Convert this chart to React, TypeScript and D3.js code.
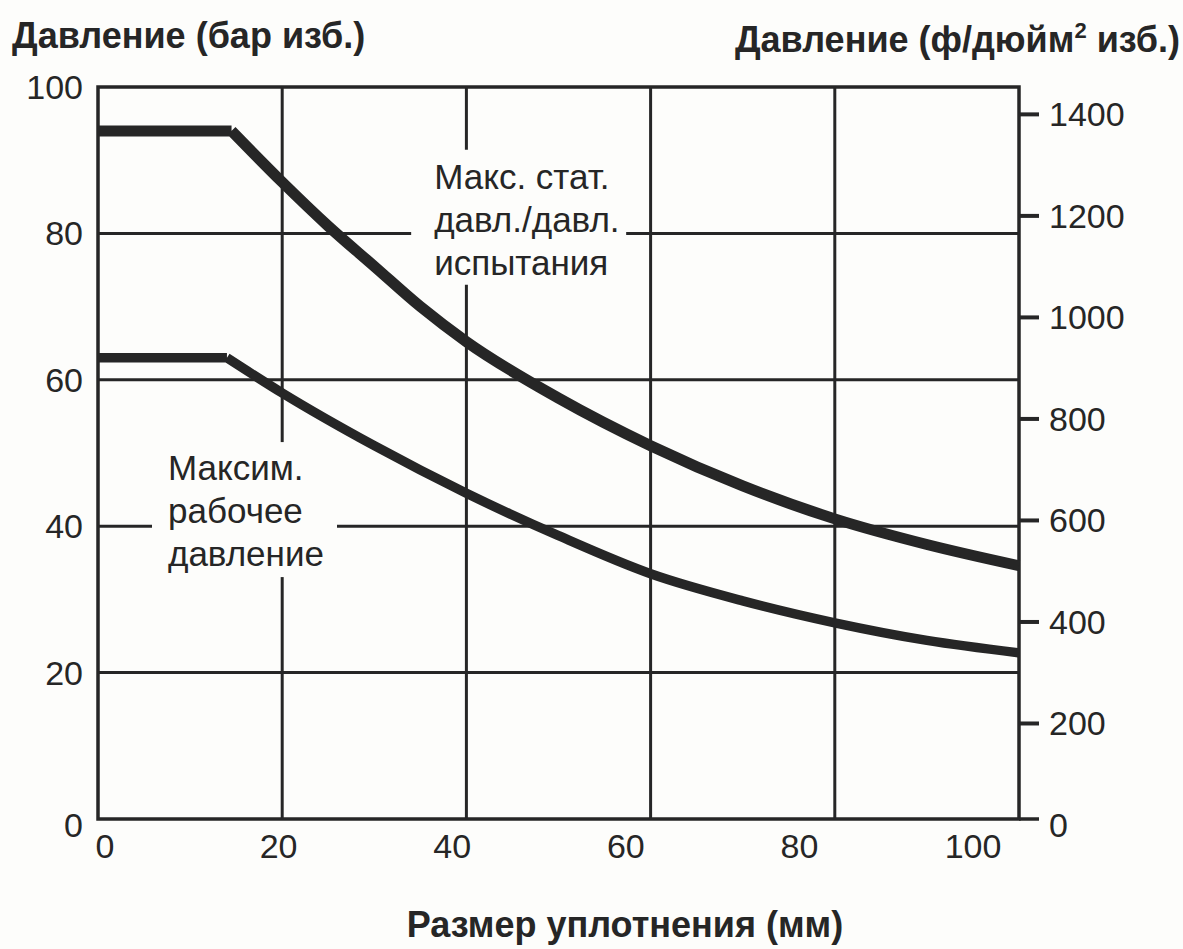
import React from 'react';
import * as d3 from 'd3';

// seal size (mm) vs pressure (bar g)
const testPressure: [number, number][] = [
  [0, 94], [14.5, 94], [20, 87], [25, 81], [30, 75.5], [35, 70], [40, 65.2],
  [50, 57.5], [60, 51], [70, 45.5], [80, 41], [90, 37.5], [100, 34.6],
];
const workPressure: [number, number][] = [
  [0, 63], [14, 63], [20, 58.2], [30, 51], [40, 44.5], [50, 38.7],
  [60, 33.5], [70, 29.8], [80, 26.8], [90, 24.4], [100, 22.7],
];

const xTicks = [0, 20, 40, 60, 80, 100];
const yTicks = [0, 20, 40, 60, 80, 100];
const psiTicks = [0, 200, 400, 600, 800, 1000, 1200, 1400];
const gridX = [20, 40, 60, 80];
const gridY = [20, 40, 60, 80];

const upperLabel = ['Макс. стат.', 'давл./давл.', 'испытания'];
const lowerLabel = ['Максим.', 'рабочее', 'давление'];

const W = 1183;
const H = 949;
const ink = '#262626';
const bg = '#fdfdfb';
const font = '"Liberation Sans", Arial, Helvetica, sans-serif';

export default function App() {
  const x = d3.scaleLinear().domain([0, 100]).range([98, 1019]);
  const y = d3.scaleLinear().domain([0, 100]).range([819, 87]);
  const yPsi = d3.scaleLinear().domain([0, 1450]).range([825, 89]);
  // printed tick labels sit a bit off the grid in the original
  const xLab = d3.scaleLinear().domain([0, 100]).range([105, 973]);

  const flat = d3.line<[number, number]>().x(d => x(d[0])).y(d => y(d[1]));
  const smooth = d3
    .line<[number, number]>()
    .x(d => x(d[0]))
    .y(d => y(d[1]))
    .curve(d3.curveMonotoneX);

  const curvePath = (pts: [number, number][]) =>
    (flat(pts.slice(0, 2)) || '') + (smooth(pts.slice(1)) || '');

  const [x0, x1] = x.range();
  const [y0, y1] = y.range();

  const annotations = [
    { lines: upperLabel, ax: x(36.5), ay: y(86.1), box: [-23, -39, 215, 135] },
    { lines: lowerLabel, ax: x(7.6), ay: y(46.3), box: [-16, -38, 185, 135] },
  ];

  return (
    <svg
      width={W}
      height={H}
      style={{ position: 'absolute', left: 0, top: 0, background: bg }}
      fontFamily={font}
    >
      {/* grid */}
      {gridX.map(v => (
        <line key={'gx' + v} x1={x(v)} x2={x(v)} y1={y1} y2={y0} stroke={ink} strokeWidth={3} />
      ))}
      {gridY.map(v => (
        <line key={'gy' + v} x1={x0} x2={x1} y1={y(v)} y2={y(v)} stroke={ink} strokeWidth={3} />
      ))}

      {/* frame */}
      <rect x={x0} y={y1} width={x1 - x0} height={y0 - y1} fill="none" stroke={ink} strokeWidth={3.5} />
      <line x1={x1} x2={x1 + 20} y1={y0} y2={y0} stroke={ink} strokeWidth={3.5} />

      {/* right psi ticks */}
      {psiTicks.filter(v => v > 0).map(v => (
        <line key={'pt' + v} x1={x1} x2={x1 + 20} y1={yPsi(v)} y2={yPsi(v)} stroke={ink} strokeWidth={4} />
      ))}

      {/* annotation boxes knock out the grid */}
      {annotations.map((a, i) => (
        <g key={'an' + i}>
          <rect x={a.ax + a.box[0]} y={a.ay + a.box[1]} width={a.box[2]} height={a.box[3]} fill={bg} />
          {a.lines.map((t, j) => (
            <text key={j} x={a.ax} y={a.ay + j * 43} fontSize={35} fill={ink}>
              {t}
            </text>
          ))}
        </g>
      ))}

      {/* curves */}
      <path d={curvePath(testPressure)} fill="none" stroke={ink} strokeWidth={11} strokeLinejoin="round" />
      <path d={curvePath(workPressure)} fill="none" stroke={ink} strokeWidth={9.5} strokeLinejoin="round" />

      {/* left axis labels */}
      {yTicks.map(v => (
        <text key={'yl' + v} x={83} y={y(v) + (v === 0 ? 6 : 0)} dy="0.35em" textAnchor="end" fontSize={34} fill={ink}>
          {v}
        </text>
      ))}

      {/* right axis labels */}
      {psiTicks.map(v => (
        <text key={'pl' + v} x={1049} y={yPsi(v)} dy="0.35em" fontSize={34} fill={ink}>
          {v}
        </text>
      ))}

      {/* bottom labels */}
      {xTicks.map(v => (
        <text key={'xl' + v} x={xLab(v)} y={858} textAnchor="middle" fontSize={34} fill={ink}>
          {v}
        </text>
      ))}

      {/* titles */}
      <text x={12} y={48} fontSize={36} fontWeight={700} fill={ink}>
        Давление (бар изб.)
      </text>
      <text x={1180} y={52} fontSize={36} fontWeight={700} fill={ink} textAnchor="end">
        Давление (ф/дюйм
        <tspan fontSize={22} dy={-14}>2</tspan>
        <tspan dy={14}> изб.)</tspan>
      </text>
      <text x={625} y={937} fontSize={36} fontWeight={700} fill={ink} textAnchor="middle">
        Размер уплотнения (мм)
      </text>
    </svg>
  );
}
